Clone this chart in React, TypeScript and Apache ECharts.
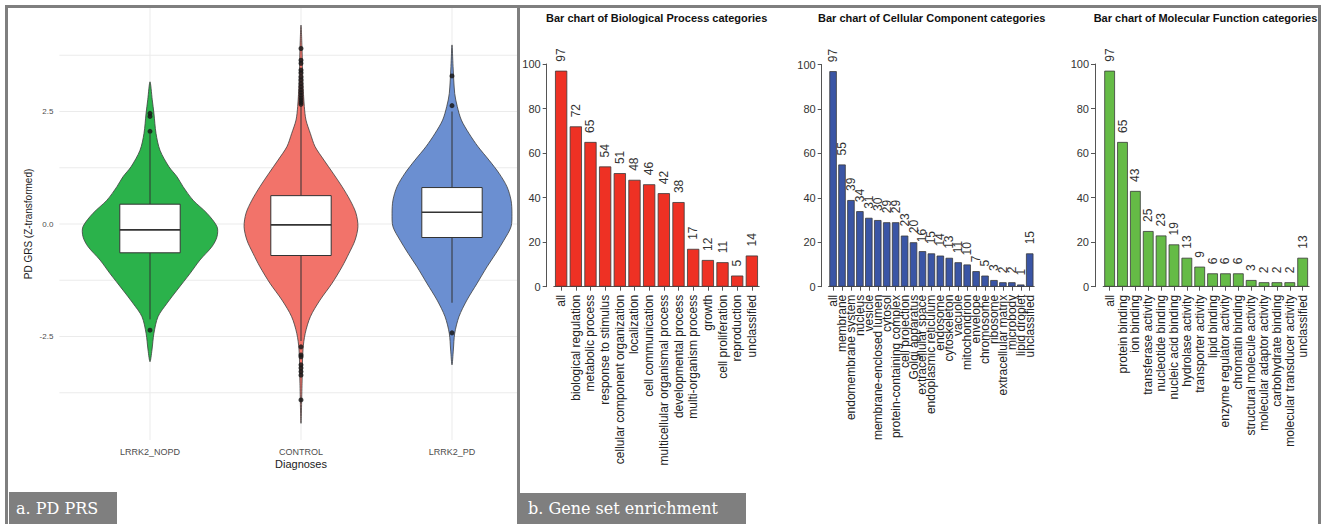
import React, { useEffect, useRef } from "react";
import * as echarts from "echarts";

// ---------- Panel a: violin + box plot data ----------
const groups = ["LRRK2_NOPD", "CONTROL", "LRRK2_PD"];
const groupColors = ["#2bb24b", "#f2736a", "#6b8fd1"];

// density profile: [value, half-width as a fraction of one group slot]
const violinNOPD: [number, number][] = [
  [3.16, 0], [2.76, 0.015], [2.46, 0.026], [2.01, 0.04], [1.64, 0.066], [1.27, 0.126],
  [1.05, 0.179], [0.83, 0.219], [0.53, 0.285], [0.24, 0.377], [-0.06, 0.444], [-0.28, 0.444],
  [-0.5, 0.411], [-0.8, 0.331], [-1.1, 0.265], [-1.47, 0.179], [-1.76, 0.113], [-2.06, 0.053],
  [-2.43, 0.026], [-2.8, 0.013], [-3.06, 0],
];
const violinCONTROL: [number, number][] = [
  [4.42, 0], [3.87, 0.007], [3.13, 0.013], [2.61, 0.022], [2.31, 0.033], [2.01, 0.062],
  [1.72, 0.093], [1.42, 0.152], [1.13, 0.212], [0.83, 0.272], [0.53, 0.325], [0.24, 0.364],
  [-0.06, 0.377], [-0.36, 0.358], [-0.65, 0.318], [-0.95, 0.272], [-1.32, 0.205], [-1.69, 0.126],
  [-2.06, 0.062], [-2.43, 0.028], [-2.8, 0.013], [-3.54, 0.007], [-4.43, 0],
];
const violinPD: [number, number][] = [
  [3.98, 0], [3.5, 0.007], [2.9, 0.018], [2.61, 0.035], [2.31, 0.062], [2.01, 0.113],
  [1.72, 0.172], [1.42, 0.245], [1.13, 0.311], [0.83, 0.364], [0.53, 0.391], [0.24, 0.397],
  [-0.06, 0.391], [-0.36, 0.344], [-0.65, 0.291], [-0.95, 0.232], [-1.32, 0.166], [-1.69, 0.099],
  [-2.06, 0.046], [-2.43, 0.018], [-2.8, 0.009], [-3.13, 0],
];
const violinProfiles = [violinNOPD, violinCONTROL, violinPD];

// box stats: [lower whisker, Q1, median, Q3, upper whisker]
const boxNOPD = [-2.12, -0.64, -0.13, 0.44, 2.0];
const boxCONTROL = [-2.6, -0.7, -0.02, 0.63, 2.62];
const boxPD = [-1.75, -0.3, 0.26, 0.81, 2.5];
const boxStats = [boxNOPD, boxCONTROL, boxPD];

const outliersNOPD = [2.46, 2.39, 2.06, -2.36];
const outliersCONTROL = [
  3.9, 3.64, 3.57, 3.42, 3.36, 3.27, 3.2, 3.12, 3.05, 2.98, 2.92, 2.86, 2.8, 2.75, 2.7, 2.66,
  -2.73, -2.91, -2.95, -3.13, -3.2, -3.28, -3.36, -3.91,
];
const outliersPD = [3.29, 2.63, -2.42];
const outlierLists = [outliersNOPD, outliersCONTROL, outliersPD];

const yTickValues = [-2.5, 0, 2.5];
const yGridValues = [-3.75, -2.5, -1.25, 0, 1.25, 2.5, 3.75];

// ---------- Panel b: bar chart data ----------
const bpCats = [
  "all", "biological regulation", "metabolic process", "response to stimulus",
  "cellular component organization", "localization", "cell communication",
  "multicellular organismal process", "developmental process", "multi-organism process",
  "growth", "cell proliferation", "reproduction", "unclassified",
];
const bpVals = [97, 72, 65, 54, 51, 48, 46, 42, 38, 17, 12, 11, 5, 14];

const ccCats = [
  "all", "membrane", "endomembrane system", "nucleus", "vesicle", "membrane-enclosed lumen",
  "cytosol", "protein-containing complex", "cell projection", "Golgi apparatus",
  "extracellular space", "endoplasmic reticulum", "endosome", "cytoskeleton", "vacuole",
  "mitochondrion", "envelope", "chromosome", "ribosome", "extracellular matrix", "microbody",
  "lipid droplet", "unclassified",
];
const ccVals = [97, 55, 39, 34, 31, 30, 29, 29, 23, 20, 16, 15, 14, 13, 11, 10, 7, 5, 3, 2, 2, 1, 15];

const mfCats = [
  "all", "protein binding", "ion binding", "transferase activity", "nucleotide binding",
  "nucleic acid binding", "hydrolase activity", "transporter activity", "lipid binding",
  "enzyme regulator activity", "chromatin binding", "structural molecule activity",
  "molecular adaptor activity", "carbohydrate binding", "molecular transducer activity",
  "unclassified",
];
const mfVals = [97, 65, 43, 25, 23, 19, 13, 9, 6, 6, 6, 3, 2, 2, 2, 13];

const barTitles = [
  "Bar chart of Biological Process categories",
  "Bar chart of Cellular Component categories",
  "Bar chart of Molecular Function categories",
];
const yBarTicks = [0, 20, 40, 60, 80, 100];

const SANS = "'Liberation Sans', Arial, Helvetica, sans-serif";
const SERIF = "'DejaVu Serif', 'Liberation Serif', serif";

function violinOption(): any {
  const boxHalf = 0.2;
  return {
    animation: false,
    textStyle: { fontFamily: SANS },
    grid: { left: 51.4, top: 0, width: 483.2, height: 432, containLabel: false, outerBoundsMode: "none" },
    xAxis: {
      type: "value",
      min: 0.4,
      max: 3.6,
      axisLine: { show: false },
      axisTick: { show: false },
      splitLine: { show: false },
      axisLabel: {
        customValues: [1, 2, 3],
        formatter: (v: number) => groups[Math.round(v) - 1] ?? "",
        fontSize: 9,
        color: "#4d4d4d",
        margin: 7,
      },
      name: "Diagnoses",
      nameLocation: "middle",
      nameGap: 18,
      nameMoveOverlap: false,
      nameTextStyle: { fontSize: 11, color: "#1a1a1a" },
    },
    yAxis: {
      type: "value",
      min: -4.8,
      max: 4.8,
      axisLine: { show: false },
      axisTick: { show: false },
      splitLine: { show: false },
      axisLabel: {
        customValues: yTickValues,
        formatter: (v: number) => v.toFixed(1),
        fontSize: 8,
        color: "#4d4d4d",
        margin: 6,
      },
      name: "PD GRS (Z-transformed)",
      nameLocation: "middle",
      nameRotate: 90,
      nameGap: 26,
      nameMoveOverlap: false,
      nameTextStyle: { fontSize: 10, color: "#1a1a1a" },
    },
    series: [
      {
        type: "custom",
        z: 1,
        silent: true,
        data: yGridValues.map((v) => [1, v]),
        renderItem: (params: any, api: any) => {
          const cs = params.coordSys;
          const y = api.coord([1, api.value(1)])[1];
          return {
            type: "line",
            shape: { x1: cs.x, y1: y, x2: cs.x + cs.width, y2: y },
            style: { stroke: "#ebebeb", lineWidth: 1 },
          };
        },
      },
      {
        type: "custom",
        z: 1,
        silent: true,
        data: groups.map((_, i) => [i + 1, 0]),
        renderItem: (params: any, api: any) => {
          const cs = params.coordSys;
          const x = api.coord([api.value(0), 0])[0];
          return {
            type: "line",
            shape: { x1: x, y1: cs.y, x2: x, y2: cs.y + cs.height },
            style: { stroke: "#ebebeb", lineWidth: 1 },
          };
        },
      },
      {
        type: "custom",
        z: 3,
        silent: true,
        data: groups.map((_, i) => [i + 1, boxStats[i][2]]),
        renderItem: (params: any, api: any) => {
          const i = params.dataIndex;
          const cx = api.value(0);
          const prof = violinProfiles[i];
          const right = prof.map(([v, w]) => api.coord([cx + w, v]));
          const left = prof
            .slice(1, -1)
            .reverse()
            .map(([v, w]) => api.coord([cx - w, v]));
          const b = boxStats[i];
          const xl = api.coord([cx - boxHalf, 0])[0];
          const xr = api.coord([cx + boxHalf, 0])[0];
          const xc = api.coord([cx, 0])[0];
          const yy = b.map((v) => api.coord([cx, v])[1]);
          return {
            type: "group",
            children: [
              {
                type: "polygon",
                shape: { points: [...right, ...left], smooth: 0.3 },
                style: { fill: groupColors[i], stroke: "#3d3d3d", lineWidth: 0.8 },
              },
              {
                type: "line",
                shape: { x1: xc, y1: yy[3], x2: xc, y2: yy[4] },
                style: { stroke: "#333", lineWidth: 1 },
              },
              {
                type: "line",
                shape: { x1: xc, y1: yy[1], x2: xc, y2: yy[0] },
                style: { stroke: "#333", lineWidth: 1 },
              },
              {
                type: "rect",
                shape: { x: xl, y: yy[3], width: xr - xl, height: yy[1] - yy[3] },
                style: { fill: "#ffffff", stroke: "#333", lineWidth: 1 },
              },
              {
                type: "line",
                shape: { x1: xl, y1: yy[2], x2: xr, y2: yy[2] },
                style: { stroke: "#333", lineWidth: 1.6 },
              },
            ],
          };
        },
      },
      {
        type: "scatter",
        z: 5,
        silent: true,
        symbolSize: 5,
        itemStyle: { color: "#1a1a1a", opacity: 0.85 },
        data: outlierLists.flatMap((list, i) => list.map((v) => [i + 1, v])),
      },
    ],
  };
}

function barOption(): any {
  const panels = [
    { cats: bpCats, vals: bpVals, color: "#ee3124" },
    { cats: ccCats, vals: ccVals, color: "#3a55a5" },
    { cats: mfCats, vals: mfVals, color: "#65bb46" },
  ];
  const layout = [
    { left: 553.8, top: 64, width: 205.4, height: 222.7, offset: 7.1, titleX: 656.7 },
    { left: 828.6, top: 64.5, width: 205.6, height: 222.2, offset: 6.9, titleX: 931.7 },
    { left: 1103.2, top: 64, width: 205.9, height: 222.7, offset: 8.2, titleX: 1205.5 },
  ];
  const frame = "#7f7f7f";
  return {
    animation: false,
    textStyle: { fontFamily: SANS },
    grid: layout.map((l) => ({
      left: l.left,
      top: l.top,
      width: l.width,
      height: l.height,
      containLabel: false,
      outerBoundsMode: "none",
    })),
    xAxis: panels.map((p, i) => ({
      type: "category",
      gridIndex: i,
      data: p.cats,
      axisLine: { show: true, lineStyle: { color: "#555", width: 1 } },
      axisTick: { show: true, alignWithLabel: true, length: 4, lineStyle: { color: "#555" } },
      axisLabel: { interval: 0, rotate: 90, fontSize: 12, color: "#222", margin: 8 },
      splitLine: { show: false },
    })),
    yAxis: panels.map((_, i) => ({
      type: "value",
      gridIndex: i,
      min: 0,
      max: 100,
      interval: 20,
      offset: layout[i].offset,
      axisLine: { show: true, lineStyle: { color: "#555", width: 1 } },
      axisTick: { show: true, length: 4, lineStyle: { color: "#555" } },
      axisLabel: { fontSize: 11, color: "#333", margin: 6, customValues: yBarTicks },
      splitLine: { show: false },
    })),
    series: panels.map((p, i) => ({
      type: "bar",
      xAxisIndex: i,
      yAxisIndex: i,
      data: p.vals,
      barCategoryGap: "16.67%",
      itemStyle: { color: p.color, borderColor: "#3a3a3a", borderWidth: 0.8 },
      label: {
        show: true,
        position: "top",
        rotate: 90,
        align: "left",
        verticalAlign: "middle",
        distance: 9,
        fontSize: 12,
        color: "#333",
      },
    })),
    graphic: [
      ...barTitles.map((t, i) => ({
        type: "text",
        x: layout[i].titleX,
        y: 18.3,
        z: 10,
        style: {
          text: t,
          fill: "#111",
          fontSize: 11,
          fontWeight: "bold",
          fontFamily: SANS,
          align: "center",
          verticalAlign: "middle",
          textAlign: "center",
          textVerticalAlign: "middle",
        },
      })),
      {
        type: "rect",
        z: 20,
        shape: { x: 6.5, y: 6.5, width: 1313, height: 524 },
        style: { fill: "none", stroke: frame, lineWidth: 3 },
      },
      {
        type: "line",
        z: 20,
        shape: { x1: 518.5, y1: 6.5, x2: 518.5, y2: 524 },
        style: { stroke: frame, lineWidth: 3 },
      },
      {
        type: "rect",
        z: 20,
        shape: { x: 9, y: 492, width: 108, height: 32 },
        style: { fill: frame },
      },
      {
        type: "text",
        z: 21,
        x: 16,
        y: 508,
        style: {
          text: "a. PD PRS",
          fill: "#ffffff",
          fontSize: 16,
          fontFamily: SERIF,
          align: "left",
          verticalAlign: "middle",
          textAlign: "left",
          textVerticalAlign: "middle",
        },
      },
      {
        type: "rect",
        z: 20,
        shape: { x: 520, y: 493, width: 226, height: 31 },
        style: { fill: frame },
      },
      {
        type: "text",
        z: 21,
        x: 528,
        y: 508.5,
        style: {
          text: "b. Gene set enrichment",
          fill: "#ffffff",
          fontSize: 16,
          fontFamily: SERIF,
          align: "left",
          verticalAlign: "middle",
          textAlign: "left",
          textVerticalAlign: "middle",
        },
      },
    ],
  };
}

export default function App() {
  const barRef = useRef<HTMLDivElement>(null);
  const violinRef = useRef<HTMLDivElement>(null);

  useEffect(() => {
    if (!barRef.current || !violinRef.current) return;
    const barChart = echarts.init(barRef.current, undefined, { renderer: "svg" });
    barChart.setOption(barOption());
    const violinChart = echarts.init(violinRef.current, undefined, { renderer: "svg" });
    violinChart.setOption(violinOption());
    return () => {
      barChart.dispose();
      violinChart.dispose();
    };
  }, []);

  return (
    <div
      style={{
        position: "fixed",
        left: 0,
        top: 0,
        width: 1327,
        height: 524,
        background: "#ffffff",
        overflow: "hidden",
      }}
    >
      <div ref={barRef} style={{ position: "absolute", left: 0, top: 0, width: 1327, height: 524 }} />
      <div
        style={{
          position: "absolute",
          left: 8,
          top: 8,
          width: 509,
          height: 484,
          overflow: "hidden",
        }}
      >
        <div ref={violinRef} style={{ position: "absolute", left: 0, top: 0, width: 560, height: 484 }} />
      </div>
    </div>
  );
}
